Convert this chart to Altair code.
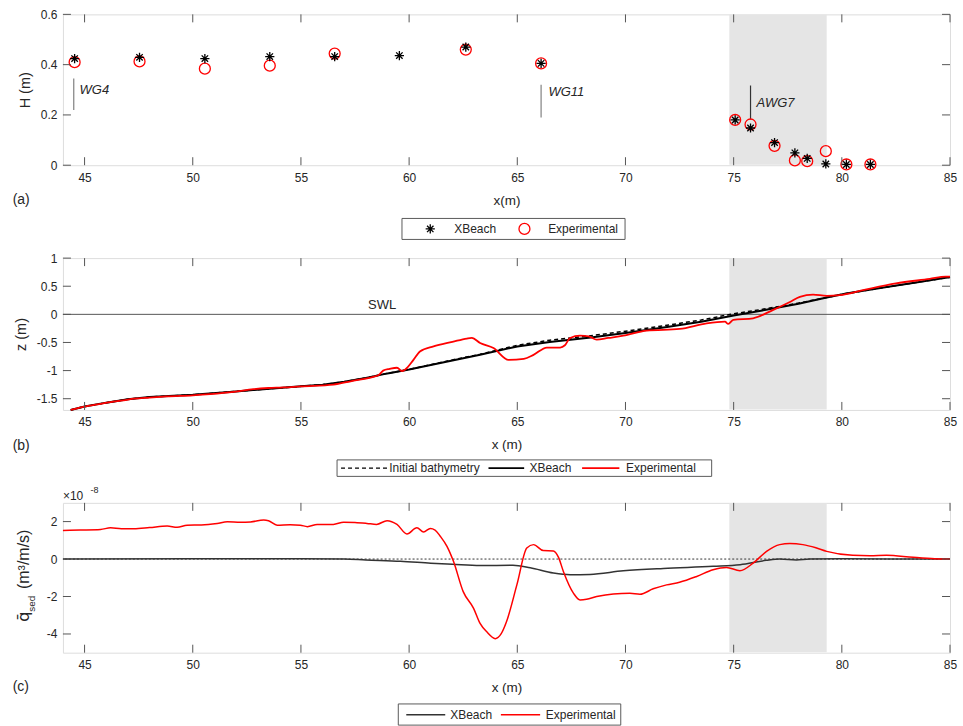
import altair as alt
import pandas as pd

FONT = "Liberation Sans"
TXT = "#262626"
AX = "#555555"
W = 888
HA, HB, HC = 151, 152, 150
X_DOM = [44, 85]
x_ticks = [45, 50, 55, 60, 65, 70, 75, 80, 85]
zone = [74.8, 79.3]

# ---------------- panel (a): wave height ----------------
xb_a_x = [44.54, 47.54, 50.56, 53.56, 56.56, 59.55, 62.62, 66.10, 75.07, 75.78, 76.89, 77.83, 78.40, 79.26, 80.21, 81.32]
xb_a_h = [0.424, 0.429, 0.424, 0.432, 0.432, 0.436, 0.470, 0.405, 0.180, 0.148, 0.090, 0.049, 0.027, 0.005, 0.003, 0.003]
ex_a_x = [44.54, 47.54, 50.56, 53.56, 56.56, 62.62, 66.10, 75.07, 75.78, 76.89, 77.83, 78.40, 79.26, 80.21, 81.32]
ex_a_h = [0.410, 0.413, 0.384, 0.396, 0.444, 0.460, 0.405, 0.180, 0.162, 0.077, 0.019, 0.016, 0.056, 0.003, 0.003]
gauge_names = ["WG4", "WG11", "AWG7"]
gauge_x = [44.50, 66.10, 75.78]
gauge_h0 = [0.220, 0.190, 0.182]
gauge_h1 = [0.345, 0.320, 0.317]
gauge_lbl_x = [44.77, 66.44, 76.06]
gauge_lbl_h = [0.300, 0.291, 0.248]
gauge_col = ["#808080", "#808080", "#333333"]
a_yticks = [0, 0.2, 0.4, 0.6]

# ---------------- panel (b): bed profile ----------------
ex_b_x = [44.36, 45.0, 45.6, 46.2, 46.8, 47.3, 48.0, 48.8, 50.0, 50.8, 51.9, 52.8, 53.5, 54.2, 55.0, 56.5, 57.3,
          58.35, 58.6, 58.8, 59.1, 59.44, 59.67, 59.82, 60.2, 60.5, 61.13, 62.0, 62.67, 62.9, 63.28, 63.9, 64.6,
          65.3, 65.75, 66.37, 66.98, 67.2, 67.44, 67.9, 68.3, 68.67, 69.2, 69.9, 70.98, 72.5, 73.75, 74.6, 74.75,
          74.98, 75.9, 76.83, 77.6, 78.06, 78.67, 79.3, 79.9, 80.98, 82.5, 84.06, 84.8, 85.0]
ex_b_z = [-1.70, -1.64, -1.60, -1.56, -1.53, -1.50, -1.48, -1.46, -1.44, -1.42, -1.38, -1.33, -1.31, -1.30, -1.28,
          -1.25, -1.19, -1.11, -1.08, -1.00, -0.97, -0.95, -1.01, -0.98, -0.81, -0.66, -0.57, -0.49, -0.43, -0.42,
          -0.51, -0.60, -0.81, -0.79, -0.72, -0.59, -0.59, -0.55, -0.42, -0.38, -0.39, -0.45, -0.42, -0.38, -0.29,
          -0.26, -0.16, -0.13, -0.17, -0.10, -0.07, 0.08, 0.22, 0.31, 0.35, 0.33, 0.34, 0.43, 0.55, 0.63, 0.67, 0.67]
xb_b_x = [44.36, 45, 46, 47, 48, 50, 52, 54, 55, 56, 57, 58, 59, 60, 62, 63.28, 65, 66.5, 68.4, 70, 72, 73.5,
          75, 76.5, 78, 79.3, 80.2, 82, 83.5, 84.8, 85]
xb_b_z = [-1.70, -1.64, -1.57, -1.51, -1.47, -1.43, -1.37, -1.31, -1.28, -1.25, -1.20, -1.13, -1.05, -0.98, -0.82,
          -0.72, -0.57, -0.49, -0.41, -0.33, -0.22, -0.13, -0.02, 0.08, 0.19, 0.30, 0.37, 0.48, 0.57, 0.65, 0.66]
in_b_x = [44.36, 45, 46, 47, 48, 50, 52, 54, 55, 56, 57, 58, 59, 60, 62, 63.28, 65, 66.5, 68.4, 70, 72, 73.5,
          75, 76.5, 78, 79.3, 80.2, 82, 83.5, 84.8, 85]
in_b_z = [-1.70, -1.64, -1.57, -1.51, -1.47, -1.43, -1.37, -1.31, -1.28, -1.25, -1.20, -1.13, -1.05, -0.98, -0.81,
          -0.71, -0.55, -0.46, -0.38, -0.30, -0.19, -0.10, 0.01, 0.10, 0.20, 0.30, 0.37, 0.48, 0.57, 0.65, 0.66]
b_yticks = [-1.5, -1, -0.5, 0, 0.5, 1]

# ---------------- panel (c): sediment transport (x 1e-8) ----------------
ex_c_x = [44.0, 44.8, 45.74, 46.2, 46.7, 47.28, 48.0, 48.82, 49.28, 49.74, 50.4, 51.13, 51.6, 52.2, 52.67, 53.28,
          53.5, 53.9, 54.5, 54.97, 55.3, 55.75, 56.5, 56.97, 57.5, 58.05, 58.5, 58.98, 59.44, 59.9, 60.36, 60.67,
          60.98, 61.2, 61.44, 61.75, 62.05, 62.5, 62.98, 63.28, 63.6, 63.98, 64.25, 64.5, 64.98, 65.44, 65.75, 66.2,
          66.67, 66.9, 67.13, 67.6, 67.9, 68.2, 68.67, 69.44, 70.2, 70.67, 71.28, 71.9, 72.5, 73.29, 74.05, 74.67,
          75.29, 75.9, 76.52, 77.13, 77.6, 78.2, 78.8, 79.3, 80.5, 81.3, 82.06, 83.3, 84.3, 85.0]
ex_c_q = [1.53, 1.55, 1.58, 1.67, 1.62, 1.62, 1.68, 1.76, 1.70, 1.81, 1.82, 1.90, 1.99, 1.96, 1.98, 2.08,
          2.05, 1.81, 1.83, 1.81, 1.73, 1.85, 1.85, 1.97, 1.95, 1.90, 1.85, 2.05, 1.85, 1.34, 1.67, 1.45,
          1.63, 1.55, 1.22, 0.68, -0.12, -1.74, -2.63, -3.44, -3.90, -4.25, -4.00, -3.35, -1.38, 0.59, 0.77, 0.45,
          0.43, 0.10, -0.66, -1.83, -2.18, -2.15, -2.00, -1.86, -1.83, -1.88, -1.59, -1.38, -1.24, -0.93, -0.57, -0.45,
          -0.62, -0.22, 0.41, 0.77, 0.83, 0.77, 0.60, 0.41, 0.20, 0.18, 0.20, 0.09, 0.02, 0.0]
xb_c_x = [44, 50, 55, 57, 58, 59.6, 61, 62, 63.28, 64.8, 65.6, 66.67, 67.44, 68.36, 69.9, 71.75, 74.05, 75.3,
          76.5, 77.13, 77.9, 78.5, 80, 85]
xb_c_q = [0.0, 0.01, 0.02, 0.0, -0.05, -0.12, -0.22, -0.28, -0.35, -0.33, -0.47, -0.75, -0.84, -0.82, -0.63, -0.50,
          -0.39, -0.30, -0.07, 0.0, -0.05, 0.0, 0.01, 0.0]
c_yticks = [-4, -2, 0, 2]

one = pd.DataFrame({"k": [0]})


def txt(s, x, y, size=12, align="left", angle=None, italic=False, color=TXT, font=FONT):
    kw = dict(align=align, baseline="middle", fontSize=size, font=font, color=color)
    if angle is not None:
        kw["angle"] = angle
    if italic:
        kw["fontStyle"] = "italic"
    return alt.Chart(one).mark_text(**kw).encode(x=alt.value(x), y=alt.value(y), text=alt.value(s))


def hline(x0, x1, y, color, dash=None, width=1.5):
    kw = dict(color=color, strokeWidth=width)
    if dash:
        kw["strokeDash"] = dash
    return alt.Chart(one).mark_rule(**kw).encode(x=alt.value(x0), x2=alt.value(x1), y=alt.value(y))


def box(x0, x1, y0, y1):
    return alt.Chart(one).mark_rect(fill="white", stroke="#5a5a5a", strokeWidth=1).encode(
        x=alt.value(x0), x2=alt.value(x1), y=alt.value(y0), y2=alt.value(y1))


AXSTYLE = dict(ticks=False, tickSize=0, domain=False, grid=False, labelFlush=False,
               labelFont=FONT, labelFontSize=12, labelColor=TXT,
               titleFont=FONT, titleFontWeight="normal", titleColor=TXT)


def encs(ydom, yticks, ytitle, xtitle):
    xe = alt.X("x:Q", scale=alt.Scale(domain=X_DOM, nice=False, zero=False),
               axis=alt.Axis(values=x_ticks, title=xtitle, labelPadding=7, titlePadding=10, titleFontSize=13.5,
                             labelExpr="'' + datum.value", **AXSTYLE))
    ye = alt.Y("y:Q", scale=alt.Scale(domain=ydom, nice=False, zero=False),
               axis=alt.Axis(values=yticks, title=ytitle, labelPadding=6, titlePadding=8, titleFontSize=14.5,
                             labelExpr="'' + datum.value", **AXSTYLE))
    return xe, ye


def frame_ticks(xe, ye, yticks, H):
    dx = pd.DataFrame({"x": x_ticks})
    dy = pd.DataFrame({"y": yticks})
    r = dict(color=AX, strokeWidth=1)
    return [
        alt.Chart(dx).mark_rule(**r).encode(x=xe, y=alt.value(H), y2=alt.value(H - 8)),
        alt.Chart(dx).mark_rule(**r).encode(x=xe, y=alt.value(0), y2=alt.value(8)),
        alt.Chart(dy).mark_rule(**r).encode(y=ye, x=alt.value(0), x2=alt.value(8)),
        alt.Chart(dy).mark_rule(**r).encode(y=ye, x=alt.value(W - 8), x2=alt.value(W)),
    ]


def shade(xe, H):
    d = pd.DataFrame({"x": [zone[0]], "x2": [zone[1]]})
    return alt.Chart(d).mark_rect(color="#e5e5e5").encode(x=xe, x2="x2:Q", y=alt.value(0.5), y2=alt.value(H - 0.5))


STAR = "M-1,0L1,0M0,-1L0,1M-0.7,-0.7L0.7,0.7M-0.7,0.7L0.7,-0.7"

# ---------- panel a ----------
xe, ye = encs([0, 0.6], a_yticks, "H (m)", "x(m)")
dfa_xb = pd.DataFrame({"x": xb_a_x, "y": xb_a_h})
dfa_ex = pd.DataFrame({"x": ex_a_x, "y": ex_a_h})
dfg = pd.DataFrame({"x": gauge_x, "y": gauge_h0, "y2": gauge_h1, "c": gauge_col})
dfl = pd.DataFrame({"x": gauge_lbl_x, "y": gauge_lbl_h, "t": gauge_names})
layers_a = [
    shade(xe, HA),
    alt.Chart(dfg).mark_rule(strokeWidth=1.2).encode(x=xe, y=ye, y2="y2:Q", color=alt.Color("c:N", scale=None)),
    alt.Chart(dfl).mark_text(align="left", baseline="middle", fontSize=13, fontStyle="italic", font=FONT,
                             color=TXT).encode(x=xe, y=ye, text="t:N"),
    alt.Chart(dfa_ex).mark_point(shape="circle", size=120, color="#ff0000", filled=False, strokeWidth=1.3,
                                 opacity=1).encode(x=xe, y=ye),
    alt.Chart(dfa_xb).mark_point(shape=STAR, size=85, color="black", filled=False, strokeWidth=1.3,
                                 opacity=1).encode(x=xe, y=ye),
] + frame_ticks(xe, ye, a_yticks, HA) + [
    txt("(a)", -50.3, 186.3, size=14),
    box(339.4, 562.7, 204.3, 225.3),
    alt.Chart(one).mark_point(shape=STAR, size=85, color="black", filled=False, strokeWidth=1.3, opacity=1).encode(
        x=alt.value(367.7), y=alt.value(214.8)),
    txt("XBeach", 391.7, 214.8),
    alt.Chart(one).mark_point(shape="circle", size=120, color="#ff0000", filled=False, strokeWidth=1.3,
                              opacity=1).encode(x=alt.value(462), y=alt.value(214.8)),
    txt("Experimental", 485.7, 214.8),
]
chart_a = alt.layer(*layers_a).properties(width=W, height=HA)

# ---------- panel b ----------
xe, ye = encs([-1.7, 1], b_yticks, "z (m)", "x (m)")
dfb_ex = pd.DataFrame({"x": ex_b_x, "y": ex_b_z})
dfb_xb = pd.DataFrame({"x": xb_b_x, "y": xb_b_z})
dfb_in = pd.DataFrame({"x": in_b_x, "y": in_b_z})
swl = pd.DataFrame({"y": [0]})
swl_lbl = pd.DataFrame({"x": [58.75], "y": [0.16], "t": ["SWL"]})
layers_b = [
    shade(xe, HB),
    alt.Chart(swl).mark_rule(color="#555555", strokeWidth=1).encode(y=ye),
    alt.Chart(swl_lbl).mark_text(align="center", baseline="middle", fontSize=13, font=FONT, color=TXT).encode(
        x=xe, y=ye, text="t:N"),
    alt.Chart(dfb_in).mark_line(color="black", strokeWidth=1.5, strokeDash=[4, 3]).encode(x=xe, y=ye),
    alt.Chart(dfb_xb).mark_line(color="black", strokeWidth=2).encode(x=xe, y=ye),
    alt.Chart(dfb_ex).mark_line(color="#ff0000", strokeWidth=1.8, interpolate="monotone").encode(x=xe, y=ye),
] + frame_ticks(xe, ye, b_yticks, HB) + [
    txt("(b)", -50.3, 188, size=14),
    box(274.4, 649.4, 202, 218.5),
    hline(278.4, 324.4, 210.2, "black", dash=[4, 3], width=1.2),
    txt("Initial bathymetry", 326.7, 210.2),
    hline(426, 461.7, 210.2, "black", width=1.8),
    txt("XBeach", 467, 210.2),
    hline(519.7, 557, 210.2, "#ff0000", width=1.8),
    txt("Experimental", 563.7, 210.2),
]
chart_b = alt.layer(*layers_b).properties(width=W, height=HB)

# ---------- panel c ----------
xe, ye = encs([-5, 3], c_yticks, "", "x (m)")
dfc_ex = pd.DataFrame({"x": ex_c_x, "y": ex_c_q})
dfc_xb = pd.DataFrame({"x": xb_c_x, "y": xb_c_q})
zero = pd.DataFrame({"y": [0]})
layers_c = [
    shade(xe, HC),
    alt.Chart(zero).mark_rule(color="#333333", strokeWidth=1, strokeDash=[2, 2]).encode(y=ye),
    alt.Chart(dfc_xb).mark_line(color="#333333", strokeWidth=1.5, interpolate="monotone").encode(x=xe, y=ye),
    alt.Chart(dfc_ex).mark_line(color="#ff0000", strokeWidth=1.5, interpolate="monotone").encode(x=xe, y=ye),
] + frame_ticks(xe, ye, c_yticks, HC) + [
    txt("\u00d710", 0, -7, size=12),
    txt("-8", 27.7, -13, size=9),
    txt("(m\u00b3/m/s)", -39, 56.5, size=16, align="center", angle=270),
    txt("q\u0304", -39, 114, size=16, align="center", angle=270, font="DejaVu Sans"),
    txt("sed", -30.5, 101, size=10, align="center", angle=270),
    txt("(c)", -50.3, 184.7, size=14),
    box(335.7, 558.4, 201.3, 222.5),
    hline(343.7, 382.7, 212, "#333333", width=1.5),
    txt("XBeach", 387.7, 212),
    hline(438.4, 477.7, 212, "#ff0000", width=1.5),
    txt("Experimental", 483.4, 212),
]
chart_c = alt.layer(*layers_c).properties(width=W, height=HC)

chart = alt.vconcat(chart_a, chart_b, chart_c, spacing=93, bounds="flush").resolve_scale(
    x="independent", y="independent"
).properties(
    padding={"left": 12, "top": 7, "right": 5, "bottom": 0}
).configure_view(
    stroke=AX, strokeWidth=1
).configure(background="white")

chart.save("out.html", embed_options={"renderer": "svg", "actions": False})
